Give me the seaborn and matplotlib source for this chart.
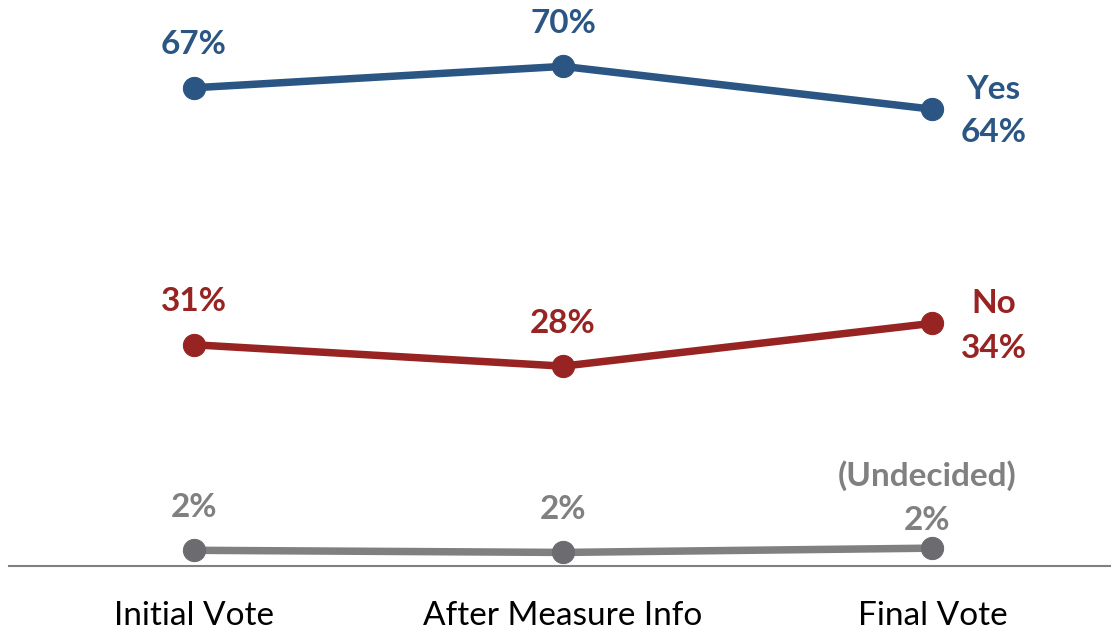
import matplotlib
matplotlib.use("Agg")
import matplotlib.pyplot as plt
import seaborn as sns
import pandas as pd

stages = ["Initial Vote", "After Measure Info", "Final Vote"]
yes_vals = [67, 70, 64]
no_vals = [31, 28, 34]
undecided_vals = [2.2, 1.9, 2.5]

series_names = ["Yes", "No", "(Undecided)"]
series_vals = [yes_vals, no_vals, undecided_vals]
line_colors = ["#2B5583", "#972422", "#808080"]
marker_colors = ["#2B5583", "#972422", "#6C6C70"]

sns.set_theme(style="white")
plt.rcParams["font.family"] = ["Lato", "DejaVu Sans"]

fig = plt.figure(figsize=(11.12, 6.3), dpi=100)
ax = fig.add_axes([0.008, 0.1016, 0.99, 0.8984])

frames = []
for name, vals in zip(series_names, series_vals):
    frames.append(pd.DataFrame({"stage": stages, "pct": vals, "series": name}))
df = pd.concat(frames, ignore_index=True)

for name, lc, mc in zip(series_names, line_colors, marker_colors):
    sub = df[df["series"] == name]
    sns.lineplot(data=sub, x="stage", y="pct", color=lc, linewidth=5.4,
                 marker="o", markersize=16, markerfacecolor=mc,
                 markeredgecolor=mc, sort=False, ax=ax, legend=False,
                 solid_capstyle="butt", zorder=3)

ax.set_xlim(-0.5, 2.48)
ax.set_ylim(0, 79.3)
ax.set_xlabel("")
ax.set_ylabel("")
ax.set_yticks([])
ax.tick_params(axis="x", length=0, pad=25, labelsize=24, colors="black")
for s in ["top", "right", "left"]:
    ax.spines[s].set_visible(False)
ax.spines["bottom"].set_color("#808080")
ax.spines["bottom"].set_linewidth(1.5)

label_kw = dict(textcoords="offset points", ha="center", va="center",
                fontsize=24, fontweight="bold")

# values above the first two points of each series
for name, vals, lc in zip(series_names, series_vals, line_colors):
    for i in range(2):
        ax.annotate(f"{round(vals[i])}%", (i, vals[i]), xytext=(0, 31),
                    color=lc, **label_kw)

# end-of-line labels
ax.annotate("Yes", (2, yes_vals[2]), xytext=(44, 14), color=line_colors[0], **label_kw)
ax.annotate(f"{round(yes_vals[2])}%", (2, yes_vals[2]), xytext=(44, -17),
            color=line_colors[0], **label_kw)
ax.annotate("No", (2, no_vals[2]), xytext=(44, 14), color=line_colors[1], **label_kw)
ax.annotate(f"{round(no_vals[2])}%", (2, no_vals[2]), xytext=(44, -18),
            color=line_colors[1], **label_kw)
ax.annotate("(Undecided)", (2, undecided_vals[2]), xytext=(-4, 52),
            color=line_colors[2], **label_kw)
ax.annotate(f"{round(undecided_vals[2])}%", (2, undecided_vals[2]), xytext=(-4, 20),
            color=line_colors[2], **label_kw)

fig.savefig("out.png", dpi=100)
